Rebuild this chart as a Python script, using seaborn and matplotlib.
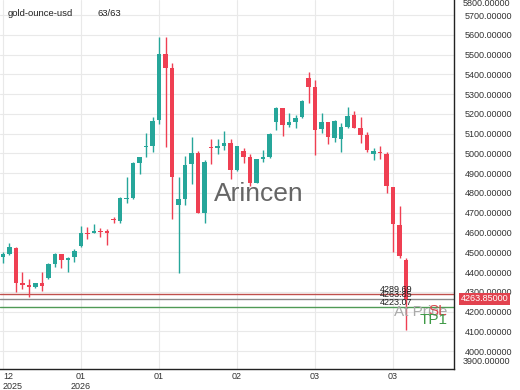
import matplotlib
matplotlib.use("Agg")
import matplotlib.pyplot as plt
import matplotlib.transforms as mtrans
from matplotlib.ticker import FormatStrFormatter
import seaborn as sns
import numpy as np
import pandas as pd

# ---- data ----
opens = [4474, 4491, 4520, 4343, 4333, 4323, 4344, 4368, 4440, 4490,
         4459, 4474, 4533, 4599, 4596, 4606, 4606, 4668, 4660, 4768,
         4773, 4953, 5031, 5038, 5170, 5504, 5431, 4739, 4768, 4945,
         5004, 4700, 5031, 5026, 5038, 5052, 4916, 5014, 4984, 4852,
         4971, 4984, 5161, 5229, 5144, 5161, 5183, 5381, 5338, 5122,
         5158, 5080, 5072, 5136, 5193, 5128, 5094, 4998, 5009, 4998,
         4829, 4638, 4461]
highs = [4503, 4545, 4525, 4401, 4365, 4344, 4401, 4446, 4498, 4492,
         4478, 4515, 4633, 4629, 4642, 4621, 4616, 4677, 4781, 4883,
         4957, 4984, 5102, 5183, 5591, 5591, 5457, 4880, 4987, 5085,
         5014, 4967, 5073, 5073, 5114, 5073, 5038, 5026, 4998, 4974,
         5018, 5102, 5237, 5231, 5204, 5195, 5271, 5411, 5372, 5204,
         5160, 5170, 5153, 5234, 5217, 5183, 5110, 5029, 5038, 5009,
         4830, 4734, 4469]
lows = [4444, 4486, 4300, 4312, 4275, 4320, 4305, 4366, 4427, 4422,
        4402, 4452, 4528, 4566, 4595, 4579, 4537, 4650, 4650, 4748,
        4772, 4896, 4981, 5009, 5149, 5034, 4667, 4393, 4739, 4846,
        4699, 4650, 4945, 4996, 5018, 4871, 4911, 4950, 4835, 4849,
        4958, 4976, 5119, 5089, 5136, 5128, 5180, 5254, 4992, 5102,
        5048, 5060, 5009, 5128, 5128, 5052, 5006, 4967, 4972, 4798,
        4500, 4469, 4106]
closes = [4490, 4528, 4346, 4333, 4323, 4343, 4329, 4440, 4491, 4461,
          4471, 4508, 4599, 4594, 4609, 4601, 4595, 4662, 4773, 4776,
          4953, 4984, 5038, 5166, 5504, 5431, 4883, 4768, 4942, 5004,
          4700, 4955, 5028, 5038, 5052, 4916, 5038, 4984, 4852, 4971,
          4984, 5099, 5229, 5144, 5161, 5178, 5267, 5338, 5119, 5158,
          5085, 5165, 5133, 5190, 5131, 5094, 5018, 5013, 5001, 4837,
          4643, 4481, 4263.85]

tick_pos = [0, 12, 24, 36, 48, 60]
tick_labels = ["12\n2025", "01\n2026", "01", "02", "03", "03"]
y_ticks = list(range(4000, 5701, 100))
sl_level = 4289.69
last_price = 4263.85
tp1_level = 4223.07
symbol = "gold-ounce-usd"
count_label = "63/63"

GREEN = "#26a69a"
RED = "#ef3f52"

sns.set_theme(style="whitegrid")
plt.rcParams['font.family'] = ['Liberation Sans', 'DejaVu Sans']

fig = plt.figure(figsize=(5.2, 3.9), dpi=100)
ax = fig.add_axes([0, 21 / 390, 454 / 520, 369 / 390])
ax.set_facecolor("white")

df = pd.DataFrame(dict(idx=np.arange(len(opens)), o=opens, h=highs, l=lows, c=closes))
up = df.c >= df.o
colors = np.where(up, GREEN, RED)
ax.vlines(df.idx, df.l, df.h, colors=colors, lw=1, zorder=3)
body = np.maximum((df.c - df.o).abs(), 6)
ax.bar(df.idx, body, bottom=np.minimum(df.o, df.c), width=0.66, color=colors,
       linewidth=0, zorder=3)

ax.set_xlim(-0.46, 69.38)
ax.set_ylim(3909, 5777)

# level lines
ax.axhline(sl_level, color="#c0504d", lw=1, zorder=2)
ax.axhline(last_price, color="#8a8a8a", lw=1, zorder=2)
ax.axhline(tp1_level, color="#4f9a55", lw=1, zorder=2)
for lvl in (sl_level, last_price, tp1_level):
    ax.text(58, lvl, f"{lvl:.2f}", fontsize=6.5, color="#222222", ha="left",
            va="bottom", zorder=4)
ax.text(60.15, 4197, "At Price", fontsize=11, color="#aaaaaa", ha="left",
        va="center", zorder=4)
ax.text(65.4, 4203, "SL", fontsize=11, color="#d9474f", ha="left",
        va="center", zorder=5)
ax.text(64.1, 4157, "TP1", fontsize=11, color="#3f9a46", ha="left",
        va="center", zorder=5)

# watermark
ax.text(39.4, 4795, "Arincen", fontsize=19, color="#555555", ha="center",
        va="center", zorder=4, alpha=0.9)

# axes styling
ax.grid(True, color="#e9e9e9", lw=0.8)
ax.set_axisbelow(True)
for s in ("left", "top"):
    ax.spines[s].set_visible(False)
for s in ("right", "bottom"):
    ax.spines[s].set_visible(True)
    ax.spines[s].set_color("#222222")
    ax.spines[s].set_linewidth(1)

ax.yaxis.tick_right()
ax.set_yticks(y_ticks)
ax.yaxis.set_major_formatter(FormatStrFormatter("%.5f"))
ax.tick_params(axis="y", length=0, pad=8, labelsize=6.5, labelcolor="#333333")
ax.set_xticks(tick_pos)
ax.set_xticklabels(tick_labels)
ax.tick_params(axis="x", length=0, pad=2, labelsize=6.5, labelcolor="#333333")
ax.get_xticklabels()[0].set_horizontalalignment("left")

# clamped edge labels
fig.text(463 / 520, 1 - 3 / 390, "5800.00000", fontsize=6.5, color="#333333",
         va="center", ha="left")
fig.text(463 / 520, 1 - 361 / 390, "3900.00000", fontsize=6.5, color="#333333",
         va="center", ha="left")

# last price box
trans = mtrans.blended_transform_factory(ax.transAxes, ax.transData)
ax.text(461 / 454, last_price, f"{last_price:.5f}", transform=trans, fontsize=6.5,
        color="white", ha="left", va="center", clip_on=False, zorder=6,
        bbox=dict(facecolor="#e2424f", edgecolor="none", pad=1.2))

fig.text(8 / 520, 1 - 13 / 390, symbol, fontsize=6.8, color="#222222", va="center")
fig.text(97 / 520, 1 - 13 / 390, count_label, fontsize=6.8, color="#222222", va="center")

fig.savefig("out.png", dpi=100, facecolor="white")
